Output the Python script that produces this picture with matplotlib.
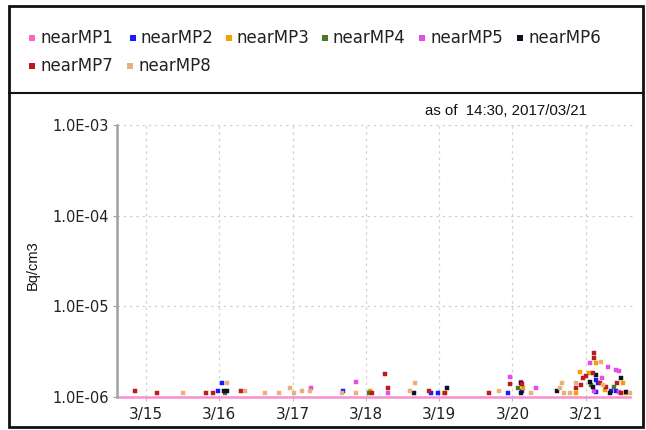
import matplotlib
matplotlib.use("Agg")
import matplotlib.pyplot as plt
from matplotlib.lines import Line2D
from matplotlib.patches import Rectangle
import pandas as pd

series_names = ["nearMP1", "nearMP2", "nearMP3", "nearMP4", "nearMP5", "nearMP6", "nearMP7", "nearMP8"]
series_colors = ["#f766c0", "#1a1aff", "#f5a000", "#4b7a2a", "#e64ce6", "#101020", "#b81c1c", "#e8b07a"]

nearMP1_t = ["2017-03-14 15:00", "2017-03-21 14:30"]
nearMP1_v = [1.0e-6, 1.0e-6]

nearMP2_t = ["2017-03-15 23:25", "2017-03-16 01:00", "2017-03-17 16:33", "2017-03-18 21:23", "2017-03-18 23:45",
             "2017-03-19 22:33", "2017-03-20 03:12", "2017-03-21 03:16", "2017-03-21 04:00", "2017-03-21 03:28",
             "2017-03-21 08:24", "2017-03-21 10:00"]
nearMP2_v = [1.15e-6, 1.44e-6, 1.16e-6, 1.10e-6, 1.10e-6, 1.10e-6, 1.16e-6, 1.54e-6, 1.42e-6, 1.13e-6, 1.17e-6, 1.17e-6]

nearMP3_t = ["2017-03-18 01:28", "2017-03-19 01:38", "2017-03-20 03:31", "2017-03-20 20:44", "2017-03-20 22:02",
             "2017-03-21 01:05", "2017-03-21 03:29", "2017-03-21 06:12", "2017-03-21 12:10", "2017-03-21 13:03"]
nearMP3_v = [1.15e-6, 1.10e-6, 1.25e-6, 1.10e-6, 1.87e-6, 1.83e-6, 2.39e-6, 1.19e-6, 1.42e-6, 1.10e-6]

nearMP4_t = ["2017-03-16 01:48", "2017-03-18 01:09", "2017-03-20 01:55", "2017-03-21 01:51", "2017-03-21 09:21"]
nearMP4_v = [1.12e-6, 1.10e-6, 1.25e-6, 1.36e-6, 1.30e-6]

nearMP5_t = ["2017-03-17 06:12", "2017-03-17 20:54", "2017-03-18 07:07", "2017-03-19 23:05", "2017-03-20 02:40",
             "2017-03-20 07:40", "2017-03-21 01:18", "2017-03-21 02:37", "2017-03-21 05:27", "2017-03-21 07:16",
             "2017-03-21 09:47", "2017-03-21 10:52", "2017-03-21 11:02"]
nearMP5_v = [1.25e-6, 1.45e-6, 1.10e-6, 1.67e-6, 1.45e-6, 1.27e-6, 2.39e-6, 1.17e-6, 1.61e-6, 2.16e-6,
             1.98e-6, 1.95e-6, 1.13e-6]

nearMP6_t = ["2017-03-16 01:34", "2017-03-16 02:24", "2017-03-18 15:56", "2017-03-19 02:43", "2017-03-20 02:47",
             "2017-03-20 02:50", "2017-03-20 14:38", "2017-03-21 01:18", "2017-03-21 02:24", "2017-03-21 03:29",
             "2017-03-21 08:04", "2017-03-21 11:40", "2017-03-21 13:17"]
nearMP6_v = [1.15e-6, 1.15e-6, 1.10e-6, 1.25e-6, 1.44e-6, 1.10e-6, 1.17e-6, 1.47e-6, 1.30e-6, 1.75e-6,
             1.10e-6, 1.61e-6, 1.13e-6]

nearMP7_t = ["2017-03-14 20:30", "2017-03-15 03:36", "2017-03-15 19:35", "2017-03-15 21:47", "2017-03-16 07:01",
             "2017-03-18 01:53", "2017-03-18 06:22", "2017-03-18 07:07", "2017-03-18 20:50", "2017-03-19 01:58",
             "2017-03-19 16:20", "2017-03-19 23:05", "2017-03-20 03:00", "2017-03-20 20:57", "2017-03-20 22:35",
             "2017-03-20 23:07", "2017-03-21 00:14", "2017-03-21 02:24", "2017-03-21 02:43", "2017-03-21 02:50",
             "2017-03-21 04:34", "2017-03-21 06:44", "2017-03-21 10:13", "2017-03-21 11:40"]
nearMP7_v = [1.16e-6, 1.10e-6, 1.10e-6, 1.10e-6, 1.16e-6, 1.10e-6, 1.79e-6, 1.25e-6, 1.17e-6, 1.12e-6,
             1.10e-6, 1.39e-6, 1.39e-6, 1.25e-6, 1.36e-6, 1.61e-6, 1.70e-6, 1.83e-6, 3.03e-6, 2.67e-6,
             1.42e-6, 1.30e-6, 1.44e-6, 1.10e-6]

nearMP8_t = ["2017-03-15 12:00", "2017-03-16 02:24", "2017-03-16 08:20", "2017-03-16 14:57", "2017-03-16 19:32",
             "2017-03-16 23:01", "2017-03-17 00:33", "2017-03-17 02:56", "2017-03-17 05:33", "2017-03-17 16:14",
             "2017-03-17 20:53", "2017-03-18 14:18", "2017-03-18 16:09", "2017-03-19 19:41", "2017-03-20 06:03",
             "2017-03-20 15:44", "2017-03-20 16:23", "2017-03-20 16:48", "2017-03-20 18:46", "2017-03-20 20:44",
             "2017-03-21 05:07", "2017-03-21 05:38", "2017-03-21 14:22"]
nearMP8_v = [1.10e-6, 1.44e-6, 1.16e-6, 1.10e-6, 1.10e-6, 1.26e-6, 1.10e-6, 1.16e-6, 1.16e-6, 1.10e-6,
             1.10e-6, 1.17e-6, 1.41e-6, 1.16e-6, 1.10e-6, 1.25e-6, 1.44e-6, 1.10e-6, 1.10e-6, 1.44e-6,
             2.45e-6, 1.36e-6, 1.10e-6]

x_tick_days = ["2017-03-15", "2017-03-16", "2017-03-17", "2017-03-18", "2017-03-19", "2017-03-20", "2017-03-21"]
x_tick_labels = ["3/15", "3/16", "3/17", "3/18", "3/19", "3/20", "3/21"]
y_ticks = [1e-6, 1e-5, 1e-4, 1e-3]
y_tick_labels = ["1.0E-06", "1.0E-05", "1.0E-04", "1.0E-03"]
x_range = ["2017-03-14 14:30", "2017-03-21 15:30"]
timestamp_text = "as of  14:30, 2017/03/21"
y_label = "Bq/cm3"

W, H = 646, 430
fig = plt.figure(figsize=(W / 100, H / 100), dpi=100)
fig.patch.set_facecolor("white")

def fx(px):
    return px / W

def fy(py):
    return 1 - py / H

ax = fig.add_axes([fx(117), fy(397), fx(633) - fx(117), fy(125) - fy(397)])
ax.set_yscale("log")
ax.set_ylim(1e-6, 1e-3)
ax.set_xlim(pd.to_datetime(x_range[0]), pd.to_datetime(x_range[1]))

scatter_series = [
    (nearMP2_t, nearMP2_v), (nearMP3_t, nearMP3_v), (nearMP4_t, nearMP4_v), (nearMP5_t, nearMP5_v),
    (nearMP6_t, nearMP6_v), (nearMP7_t, nearMP7_v), (nearMP8_t, nearMP8_v),
]

ax.plot(pd.to_datetime(nearMP1_t), nearMP1_v, color="#f78fd0", lw=1.8, clip_on=False, zorder=2)
for (t, v), c in zip(scatter_series, series_colors[1:]):
    ax.plot(pd.to_datetime(t), v, linestyle="none", marker="s", ms=2.8, mfc=c, mec=c, mew=0.3, zorder=3)

ax.set_yticks(y_ticks)
ax.set_yticklabels(y_tick_labels)
ax.yaxis.set_minor_locator(matplotlib.ticker.NullLocator())
ax.set_xticks(pd.to_datetime(x_tick_days))
ax.set_xticklabels(x_tick_labels)

ax.grid(True, which="major", color="#d0d0d0", linestyle=(0, (2, 3)), linewidth=0.9)
for s in ["top", "right", "bottom"]:
    ax.spines[s].set_visible(False)
ax.spines["left"].set_color("#a0a0a0")
ax.spines["left"].set_linewidth(1.8)
ax.tick_params(axis="y", length=3, color="#a0a0a0", labelsize=10.5, labelcolor="#222222", pad=3)
ax.tick_params(axis="x", length=3, color="#bbbbbb", labelsize=11, labelcolor="#222222", pad=4)
for lbl in ax.get_yticklabels() + ax.get_xticklabels():
    lbl.set_family("DejaVu Sans")

fig.text(fx(33), fy(265), y_label, rotation=90, ha="center", va="center", fontsize=10.5,
         family="Liberation Sans", color="#111111")
fig.text(fx(425), fy(111), timestamp_text, ha="left", va="center", fontsize=10.8,
         family="Liberation Sans", color="#111111")

# outer frame and legend box
frame = Rectangle((fx(9), fy(427)), fx(643) - fx(9), fy(6) - fy(427), transform=fig.transFigure,
                  fill=False, edgecolor="#111111", linewidth=2.0)
fig.add_artist(frame)
fig.add_artist(Line2D([fx(9), fx(643)], [fy(93), fy(93)], transform=fig.transFigure,
                      color="#111111", linewidth=1.5))

# legend entries
legend_pos = [(32, 38), (133, 38), (229, 38), (325, 38), (422, 38), (520, 38), (32, 66), (130, 66)]
for name, col, (px, py) in zip(series_names, series_colors, legend_pos):
    fig.add_artist(Rectangle((fx(px - 3), fy(py + 3)), 6 / W, 6 / H, transform=fig.transFigure,
                             facecolor=col, edgecolor="none"))
    fig.text(fx(px + 8), fy(py), name, ha="left", va="center", fontsize=12,
             family="DejaVu Sans", color="#222222")

fig.savefig("out.png", dpi=100, facecolor="white")
